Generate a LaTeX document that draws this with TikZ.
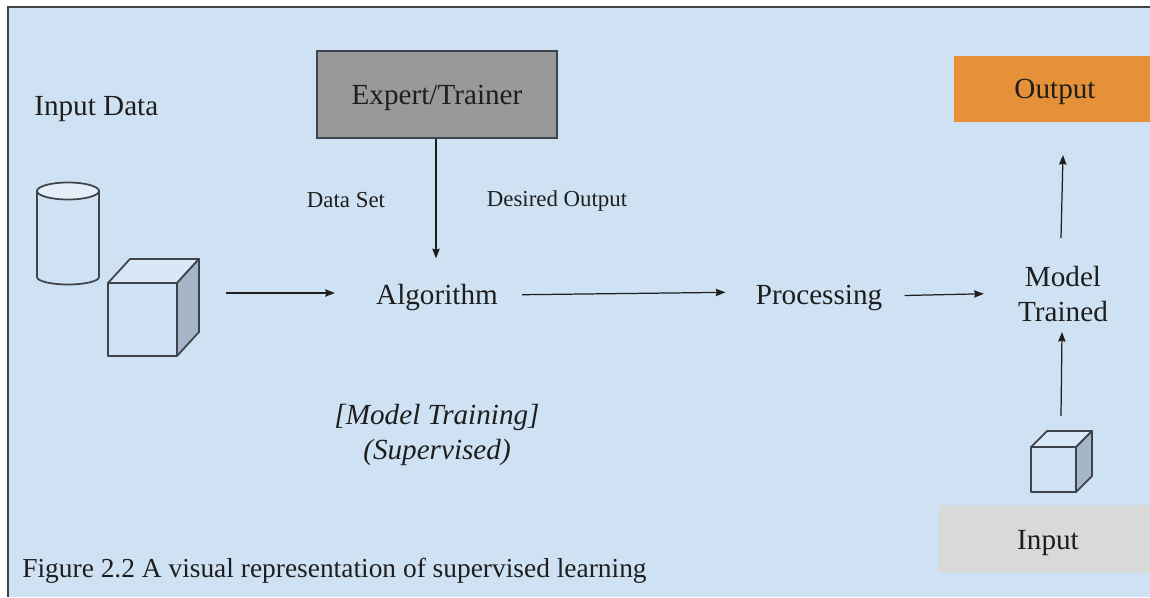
\documentclass[tikz,border=0pt]{standalone}
\usepackage{fontspec}
\usetikzlibrary{arrows.meta}
\setmainfont{Liberation Serif}
\definecolor{panelblue}{HTML}{CFE2F3}
\definecolor{cubetop}{HTML}{D9E8F7}
\definecolor{cubeside}{HTML}{A5B6C8}
\definecolor{drumtop}{HTML}{E3EEF9}
\definecolor{edgegray}{HTML}{3F444A}
\definecolor{inkgray}{HTML}{1E1E1E}
\definecolor{outputorange}{HTML}{E69138}
\tikzset{
  label/.style={inner sep=0pt,text=inkgray,font=\fontsize{16.6}{19.8}\selectfont,align=center},
  small/.style={inner sep=0pt,text=inkgray,font=\fontsize{13}{15}\selectfont},
  colorbox/.style={minimum height=#1,inner sep=0pt},
  flow/.style={draw=inkgray,line width=.7pt,-{Stealth[length=5.5pt,width=4.2pt,inset=.6pt]}},
  solid edge/.style={draw=edgegray,line width=1pt,line join=round}
}
\begin{document}
\begin{tikzpicture}
\useasboundingbox (0,0) rectangle (23,11.94);
\fill[white] (0,0) rectangle (23,11.94);
\fill[panelblue] (.16,0) rectangle (23,11.8);
\draw[edgegray,line width=1.2pt] (.16,0) -- (.16,11.8) -- (23,11.8);
% boxes
\node[colorbox=1.74cm,minimum width=4.8cm,fill=black!40,draw=edgegray,line width=.7pt] (expert) at (8.74,10.05) {};
\node[colorbox=1.32cm,minimum width=3.92cm,fill=outputorange] (output) at (21.04,10.16) {};
\node[colorbox=1.36cm,minimum width=4.22cm,fill=black!15] (input) at (20.89,1.16) {};
\node[label] (experttext) at (8.74,9.98) {Expert/Trainer};
\node[label] (outputtext) at (21.1,10.1) {Output};
\node[label] (inputtext) at (20.96,1.08) {Input};
% texts
\node[label,anchor=west] (inputdata) at (.68,9.76) {Input Data};
\node[small] (dataset) at (6.92,7.94) {Data Set};
\node[small] (desired) at (11.14,7.92) {Desired Output};
\node[label] (algorithm) at (8.74,5.98) {Algorithm};
\node[label] (processing) at (16.38,5.98) {Processing};
\node[label] (model) at (21.26,6.06) {Model\\Trained};
\node[label,font=\fontsize{16.6}{20.4}\selectfont\itshape] (training) at (8.74,3.24) {[Model Training]\\(Supervised)};
\node[inner sep=0pt,text=inkgray,anchor=west,font=\fontsize{15.6}{18}\selectfont] (caption) at (.44,.52) {Figure 2.2 A visual representation of supervised learning};
% drum
\draw[solid edge,fill=panelblue] (.74,8.12) -- (.74,6.4) arc[start angle=180,end angle=360,x radius=.62,y radius=.15] -- (1.98,8.12);
\draw[solid edge,fill=drumtop] (1.36,8.12) ellipse[x radius=.62,y radius=.17];
% cubes: left, bottom, width, height, depth x, depth y
\foreach \x/\y/\w/\h/\dx/\dy in {2.16/4.82/1.38/1.46/.44/.48, 20.62/2.1/.9/.9/.32/.32}{
  \draw[solid edge,fill=panelblue] (\x,\y) rectangle ++(\w,\h);
  \draw[solid edge,fill=cubetop] (\x,\y+\h) -- ++(\dx,\dy) -- ++(\w,0) -- ++(-\dx,-\dy) -- cycle;
  \draw[solid edge,fill=cubeside] (\x+\w,\y) -- ++(\dx,\dy) -- ++(0,\h) -- ++(-\dx,-\dy) -- cycle;
}
% arrow ends that stand free
\coordinate (datacube) at (4.52,6.08);
\coordinate (modeltop) at (21.22,7.18);
\coordinate (outputin) at (21.26,8.84);
\coordinate (smallcube) at (21.22,3.62);
\coordinate (modelin) at (21.24,5.3);
% arrows
\draw[flow,shorten >=.82cm] (datacube) -- ([yshift=.1cm]algorithm.west);
\draw[flow,shorten >=.52cm] ([xshift=-.02cm]expert.south) -- ([xshift=-.02cm]algorithm.north);
\draw[flow,shorten <=.48cm,shorten >=.6cm] ([yshift=.06cm]algorithm.east) -- ([yshift=.12cm]processing.west);
\draw[flow,shorten <=.44cm,shorten >=.68cm] ([yshift=.04cm]processing.east) -- ([yshift=.02cm]model.west);
\draw[flow] (modeltop) -- (outputin);
\draw[flow] (smallcube) -- (modelin);
\end{tikzpicture}
\end{document}
